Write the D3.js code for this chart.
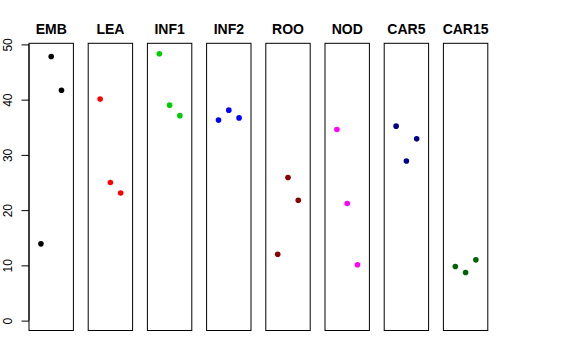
<!DOCTYPE html>
<html>
<head>
<meta charset="utf-8">
<script src="https://cdn.jsdelivr.net/npm/d3@7"></script>
<style>
  body { margin: 0; background: #fff; }
  svg { display: block; }
</style>
</head>
<body>
<svg id="chart" width="576" height="360"></svg>
<script>
const categories = ["EMB", "LEA", "INF1", "INF2", "ROO", "NOD", "CAR5", "CAR15"];
const colors = ["#000000", "#FF0000", "#00CD00", "#0000FF", "#8B0000", "#FF00FF", "#00008B", "#006400"];
const EMB = [13.9, 47.8, 41.7];
const LEA = [40.1, 25.0, 23.1];
const INF1 = [48.3, 39.0, 37.1];
const INF2 = [36.3, 38.1, 36.7];
const ROO = [12.0, 25.9, 21.8];
const NOD = [34.6, 21.2, 10.1];
const CAR5 = [35.2, 28.9, 32.9];
const CAR15 = [9.8, 8.7, 11.0];
const seriesValues = [EMB, LEA, INF1, INF2, ROO, NOD, CAR5, CAR15];
const yTicks = [0, 10, 20, 30, 40, 50];

const svg = d3.select("#chart");
const left0 = 29, step = 59.2, panelW = 44.4;
const plotTop = 43.3, plotBottom = 330.5;

const y = d3.scaleLinear().domain([-1.79, 50.2]).range([plotBottom, plotTop]);

categories.forEach((cat, i) => {
  const xl = left0 + i * step;
  const x = d3.scaleLinear().domain([-0.16, 4.16]).range([xl, xl + panelW]);
  const g = svg.append("g");
  g.selectAll("circle")
    .data(seriesValues[i])
    .enter().append("circle")
    .attr("cx", (d, j) => x(j + 1))
    .attr("cy", d => y(d))
    .attr("r", 2.8)
    .attr("fill", colors[i]);
  g.append("rect")
    .attr("x", xl).attr("y", plotTop)
    .attr("width", panelW).attr("height", plotBottom - plotTop)
    .attr("fill", "none").attr("stroke", "#000").attr("stroke-width", 1);
  g.append("text")
    .attr("x", xl + panelW / 2).attr("y", 33.5)
    .attr("text-anchor", "middle")
    .attr("font-family", "Liberation Sans, Arial, sans-serif")
    .attr("font-weight", "bold")
    .attr("font-size", "14px")
    .text(cat);
});

// y axis on first panel
const axis = d3.axisLeft(y).tickValues(yTicks).tickSize(7.5).tickPadding(0).tickFormat(d3.format("d"));
const ag = svg.append("g").attr("transform", `translate(${left0},0)`).call(axis);
ag.select(".domain").remove();
ag.append("line").attr("x1", 0).attr("x2", 0).attr("y1", y(0)).attr("y2", y(50)).attr("stroke", "#000");
ag.selectAll(".tick line").attr("stroke", "#000");
ag.selectAll(".tick text")
  .attr("x", 0).attr("dy", null).attr("y", 0)
  .attr("transform", "translate(-17,0) rotate(-90)")
  .attr("text-anchor", "middle")
  .attr("font-family", "Liberation Sans, Arial, sans-serif")
  .attr("font-size", "12px")
  .attr("fill", "#000");
</script>
</body>
</html>
